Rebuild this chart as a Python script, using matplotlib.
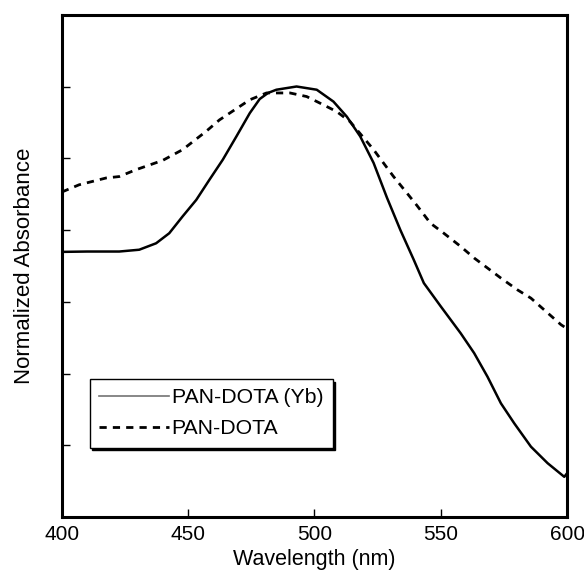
import numpy as np
import matplotlib
matplotlib.use("Agg")
import matplotlib.pyplot as plt

plt.rcParams['font.family'] = ['Liberation Sans', 'DejaVu Sans']

# PAN-DOTA (Yb) - linea continua
wl_yb = [400, 410, 422.7, 430.6, 437.3, 442.5, 447.8, 453.2, 458.4, 463.7, 469.1,
         474.4, 478.3, 481.6, 484.9, 492.9, 500.9, 507.5, 512.8, 518.1, 523.4,
         528.7, 534.0, 539.3, 543.3, 550.0, 557.9, 563.2, 568.5, 573.8, 579.1,
         585.7, 592.3, 598.9, 600]
abs_yb = [0.739, 0.740, 0.740, 0.745, 0.763, 0.791, 0.838, 0.884, 0.940, 0.996, 1.061,
          1.126, 1.165, 1.182, 1.191, 1.200, 1.191, 1.158, 1.116, 1.061, 0.987,
          0.890, 0.800, 0.717, 0.652, 0.587, 0.512, 0.457, 0.391, 0.317, 0.261,
          0.196, 0.150, 0.112, 0.122]

# PAN-DOTA - linea discontinua
wl_dota = [400, 406.8, 417.5, 422.7, 429.3, 439.9, 447.8, 457.1, 462.4, 468.4, 474.4,
           481.0, 490.3, 496.9, 503.5, 508.8, 514.1, 523.4, 531.3, 536.6, 540.6,
           545.9, 551.2, 557.9, 563.2, 568.5, 573.8, 580.4, 585.7, 591.0, 597.6, 600]
abs_dota = [0.906, 0.926, 0.945, 0.949, 0.968, 0.994, 1.024, 1.075, 1.107, 1.135, 1.163,
            1.182, 1.182, 1.172, 1.149, 1.130, 1.102, 1.024, 0.949, 0.903, 0.868,
            0.819, 0.791, 0.754, 0.722, 0.694, 0.666, 0.633, 0.610, 0.577, 0.536, 0.525]

xticks = [400, 450, 500, 550, 600]
yticks = [0.2, 0.4, 0.6, 0.8, 1.0, 1.2]

fig = plt.figure(figsize=(5.84, 5.74), dpi=100)
ax = fig.add_axes([0.106, 0.0993, 0.865, 0.875])

ax.plot(wl_yb, abs_yb, color='black', lw=1.8, label='PAN-DOTA (Yb)')
linea, = ax.plot(wl_dota, abs_dota, color='black', lw=2.0, label='PAN-DOTA')
linea.set_dashes((2.6, 2.2))

ax.set_xlim(400, 600)
ax.set_ylim(0, 1.4)
ax.set_xticks(xticks)
ax.set_yticks(yticks)
ax.set_yticklabels([])
ax.tick_params(direction='in', length=6, width=1, labelsize=15)
ax.tick_params(axis='x', pad=6)

for s in ax.spines.values():
    s.set_linewidth(2.2)

ax.set_xlabel('Wavelength (nm)', fontsize=15.5, labelpad=3)
ax.set_ylabel('Normalized Absorbance', fontsize=16, labelpad=16)

leg = ax.legend(loc='upper left', bbox_to_anchor=(0.055, 0.275), borderaxespad=0,
                fancybox=False, handlelength=3.3, handletextpad=0.1,
                fontsize=15.3, borderpad=0.45, labelspacing=0.55,
                shadow={'color': 'black', 'alpha': 1})
leg.get_frame().set_edgecolor('black')
leg.get_frame().set_linewidth(1.0)
leg.get_lines()[0].set_color('0.45')
leg.get_lines()[0].set_linewidth(1.2)

fig.savefig('out.png', dpi=100)
